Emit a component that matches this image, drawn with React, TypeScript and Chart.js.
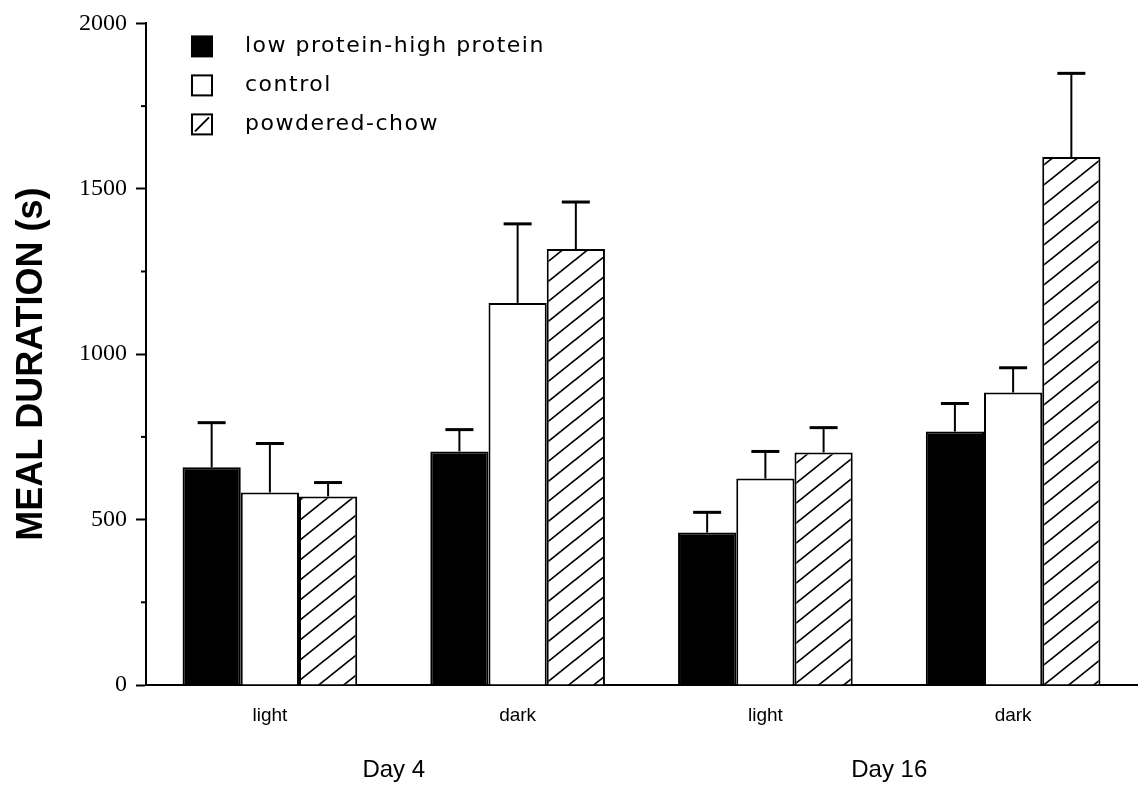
import React, { useEffect, useRef } from "react";
import { Chart, registerables } from "chart.js";
Chart.register(...registerables);

const CATEGORIES = ["light", "dark", "light", "dark"];
const DAY_LABELS = ["Day 4", "Day 16"];
const SERIES_NAMES = ["low protein-high protein", "control", "powdered-chow"];
const LOW_HIGH = [658, 706, 461, 766];
const LOW_HIGH_ERR = [135, 66, 61, 85];
const CONTROL = [582, 1155, 624, 884];
const CONTROL_ERR = [148, 239, 82, 75];
const POWDERED = [570, 1318, 703, 1596];
const POWDERED_ERR = [42, 142, 75, 253];
const Y_MIN = 0;
const Y_MAX = 2000;
const Y_STEP = 500;
const Y_TITLE = "MEAL DURATION (s)";

function makeHatch(): CanvasPattern | string {
  const w = 25, h = 20;
  const c = document.createElement("canvas");
  c.width = w;
  c.height = h;
  const g = c.getContext("2d");
  if (!g) return "#fff";
  g.fillStyle = "#fff";
  g.fillRect(0, 0, w, h);
  g.strokeStyle = "#000";
  g.lineWidth = 1.7;
  for (const dx of [-w, 0, w]) {
    g.beginPath();
    g.moveTo(dx - 2, h + 1.6);
    g.lineTo(dx + w + 2, -1.6);
    g.stroke();
  }
  const p = g.createPattern(c, "repeat");
  return p || "#fff";
}

const errorBarPlugin = {
  id: "errorBars",
  afterDatasetsDraw(chart: any) {
    const ctx = chart.ctx;
    const ys = chart.scales.y;
    chart.data.datasets.forEach((ds: any, i: number) => {
      const meta = chart.getDatasetMeta(i);
      meta.data.forEach((bar: any, j: number) => {
        const v = ds.data[j];
        const e = ds.errors[j];
        const yTop = ys.getPixelForValue(v + e);
        const x = bar.x;
        ctx.save();
        ctx.strokeStyle = "#000";
        ctx.lineWidth = 2;
        ctx.beginPath();
        ctx.moveTo(x, bar.y);
        ctx.lineTo(x, yTop);
        ctx.stroke();
        ctx.lineWidth = 3;
        ctx.beginPath();
        ctx.moveTo(x - 14, yTop);
        ctx.lineTo(x + 14, yTop);
        ctx.stroke();
        ctx.restore();
      });
    });
  },
};

const minorTickPlugin = {
  id: "minorTicks",
  afterDraw(chart: any) {
    const ctx = chart.ctx;
    const ys = chart.scales.y;
    const ticks = ys.ticks.map((t: any) => t.value);
    ctx.save();
    ctx.strokeStyle = "#000";
    ctx.lineWidth = 2;
    for (let k = 0; k < ticks.length - 1; k++) {
      const mid = (ticks[k] + ticks[k + 1]) / 2;
      const y = ys.getPixelForValue(mid);
      ctx.beginPath();
      ctx.moveTo(ys.right - 5, y);
      ctx.lineTo(ys.right, y);
      ctx.stroke();
    }
    ctx.restore();
  },
};

const titlePlugin = {
  id: "yTitle",
  afterDraw(chart: any) {
    const ctx = chart.ctx;
    const area = chart.chartArea;
    const cy = (area.top + area.bottom) / 2 + 10;
    ctx.save();
    ctx.translate(32, cy);
    ctx.rotate(-Math.PI / 2);
    ctx.fillStyle = "#000";
    ctx.font = "bold 36px 'Liberation Sans'";
    ctx.textAlign = "center";
    ctx.textBaseline = "middle";
    ctx.fillText(Y_TITLE, 0, 0);
    ctx.restore();
  },
};

const legendPlugin = {
  id: "customLegend",
  afterDraw(chart: any) {
    const ctx = chart.ctx;
    const area = chart.chartArea;
    const x0 = area.left + 46;
    const y0 = area.top + 13;
    const gap = 39;
    ctx.save();
    chart.data.datasets.forEach((ds: any, i: number) => {
      const y = y0 + i * gap;
      ctx.fillStyle = i === 0 ? "#000" : "#fff";
      ctx.fillRect(x0, y, 20, 20);
      ctx.strokeStyle = "#000";
      ctx.lineWidth = 2;
      ctx.strokeRect(x0, y, 20, 20);
      if (i === 2) {
        ctx.beginPath();
        ctx.moveTo(x0 + 3, y + 17);
        ctx.lineTo(x0 + 17, y + 3);
        ctx.stroke();
      }
      ctx.fillStyle = "#000";
      ctx.font = "22px 'DejaVu Sans'";
      (ctx as any).letterSpacing = "1.5px";
      ctx.textBaseline = "middle";
      ctx.textAlign = "left";
      ctx.fillText(ds.label, x0 + 53, y + 10);
      (ctx as any).letterSpacing = "0px";
    });
    ctx.restore();
  },
};

export default function App() {
  const ref = useRef<HTMLCanvasElement | null>(null);
  useEffect(() => {
    if (!ref.current) return;
    Chart.defaults.color = "#000";
    const hatch = makeHatch();
    const chart = new Chart(ref.current, {
      type: "bar",
      data: {
        labels: CATEGORIES,
        datasets: [
          {
            label: SERIES_NAMES[0],
            data: LOW_HIGH,
            errors: LOW_HIGH_ERR,
            backgroundColor: "#000",
            borderColor: "#000",
            borderWidth: 2,
            categoryPercentage: 0.705,
            barPercentage: 1,
          } as any,
          {
            label: SERIES_NAMES[1],
            data: CONTROL,
            errors: CONTROL_ERR,
            backgroundColor: "#fff",
            borderColor: "#000",
            borderWidth: 2,
            categoryPercentage: 0.705,
            barPercentage: 1,
          } as any,
          {
            label: SERIES_NAMES[2],
            data: POWDERED,
            errors: POWDERED_ERR,
            backgroundColor: hatch,
            borderColor: "#000",
            borderWidth: 2,
            categoryPercentage: 0.705,
            barPercentage: 1,
          } as any,
        ],
      },
      options: {
        animation: false,
        responsive: true,
        maintainAspectRatio: false,
        layout: { padding: { top: 22, right: 7, left: 0, bottom: 0 } },
        plugins: {
          legend: { display: false },
          tooltip: { enabled: false },
        },
        scales: {
          x: {
            type: "category",
            position: "bottom",
            grid: { display: false, drawTicks: false },
            border: { display: true, color: "#000", width: 2 },
            ticks: {
              font: { family: "'Liberation Sans'", size: 19 },
              padding: 19,
              color: "#000",
            },
            afterFit(s: any) {
              s.height = 42;
            },
          },
          x2: {
            type: "category",
            position: "bottom",
            labels: DAY_LABELS,
            grid: { display: false, drawTicks: false },
            border: { display: false },
            ticks: {
              font: { family: "'Liberation Sans'", size: 24 },
              padding: 29,
              color: "#000",
            },
            afterFit(s: any) {
              s.height = 62;
            },
          },
          y: {
            min: Y_MIN,
            max: Y_MAX,
            ticks: {
              stepSize: Y_STEP,
              font: { family: "'Liberation Serif'", size: 24 },
              padding: 9,
              color: "#000",
              callback: (v: any) => String(v),
            },
            grid: {
              drawOnChartArea: false,
              drawTicks: true,
              tickLength: 10,
              tickWidth: 2,
              color: "#000",
            },
            border: { display: true, color: "#000", width: 2 },
            title: { display: false },
            afterFit(s: any) {
              s.width = 146;
            },
          },
        },
      } as any,
      plugins: [errorBarPlugin, minorTickPlugin, legendPlugin, titlePlugin],
    });
    return () => chart.destroy();
  }, []);
  return (
    <div style={{ position: "fixed", left: 0, top: 0, width: 1144, height: 789, background: "#fff" }}>
      <canvas ref={ref} />
    </div>
  );
}
